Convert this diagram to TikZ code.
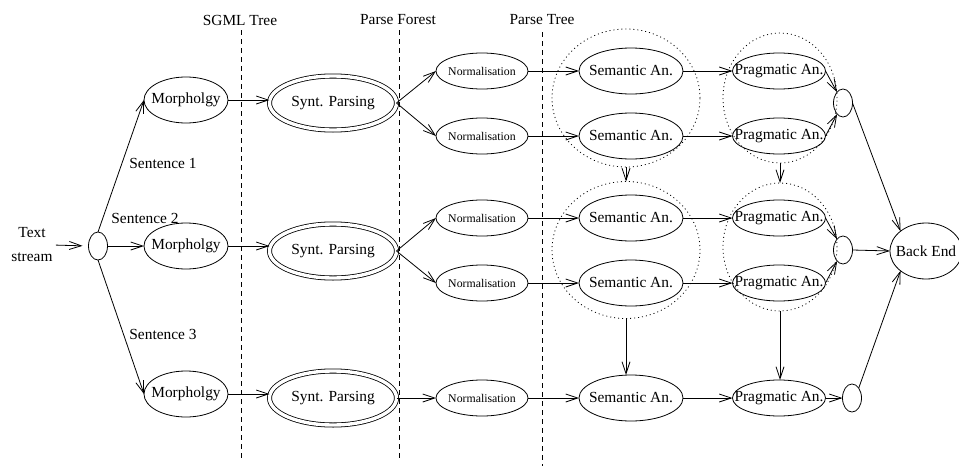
\documentclass[tikz,border=0pt]{standalone}
\usepackage{fontspec}
\setmainfont{Liberation Serif}
\usetikzlibrary{shapes.geometric,arrows.meta}
\newcommand{\mycen}[1]{\makebox[0pt]{#1}}
\begin{document}
\begin{tikzpicture}[x=1pt,y=-1pt,
  font=\fontsize{15.4}{24}\selectfont,
  line width=0.8pt,
  >={Straight Barb[length=12pt,width=8pt]},
  el/.style={ellipse,draw,inner sep=0pt,outer sep=0pt},
  morph/.style={el,minimum width=84pt,minimum height=46pt},
  synt/.style={el,double,double distance=3.4pt,minimum width=127pt,minimum height=54pt},
  norm/.style={el,minimum width=92pt,minimum height=36pt,font=\fontsize{11.8}{14}\selectfont},
  sem/.style={el,minimum width=104pt,minimum height=46pt},
  prag/.style={el,minimum width=93pt,minimum height=36pt},
  joinnode/.style={el,minimum width=19pt,minimum height=28pt},
  backend/.style={el,minimum width=72pt,minimum height=56pt},
  grp/.style={ellipse,draw,dash pattern=on 1pt off 3pt,inner sep=0pt,outer sep=0pt},
  lbl/.style={inner sep=0pt},
  sep/.style={dash pattern=on 5pt off 4pt}
]
\useasboundingbox (0,0) rectangle (959,466);

% column labels and separators
\node[lbl] (sgml) at (240,20) {SGML Tree};
\node[lbl] (pf) at (398,20) {Parse Forest};
\node[lbl] (pt) at (542,20) {Parse Tree};
\coordinate (t1) at (241,30);
\coordinate (b1) at (241,460);
\coordinate (t2) at (399,30);
\coordinate (b2) at (399,460);
\coordinate (t3) at (542,32);
\coordinate (b3) at (542,466);
\draw[sep] (t1) -- (b1);
\draw[sep] (t2) -- (b2);
\draw[sep] (t3) -- (b3);

% groups
\node[grp,minimum width=148pt,minimum height=138pt] (g1) at (626,98) {};
\node[grp,minimum width=148pt,minimum height=137pt] (g2) at (626,250) {};
\node[grp,minimum width=114pt,minimum height=130pt] (q1) at (780,98) {};
\node[grp,minimum width=114pt,minimum height=128pt] (q2) at (780,247) {};

% input
\node[lbl,align=center] (txt) at (32,245) {Text\\stream};
\node[joinnode] (split) at (98,246) {};
\node[lbl] (sen1) at (163,163) {Sentence 1};
\node[lbl] (sen2) at (145,218) {Sentence 2};
\node[lbl] (sen3) at (163,334) {Sentence 3};

\node[morph] (m1) at (186,100) {\mycen{Morpholgy}};
\node[morph] (m2) at (186,246) {\mycen{Morpholgy}};
\node[morph] (m3) at (186,394) {\mycen{Morpholgy}};

\node[synt] (s1) at (333,103) {\mycen{Synt. Parsing}};
\node[synt] (s2) at (333,251) {\mycen{Synt. Parsing}};
\node[synt] (s3) at (333,398) {\mycen{Synt. Parsing}};

\node[norm] (n1) at (482,71) {\mycen{Normalisation}};
\node[norm] (n2) at (482,136) {\mycen{Normalisation}};
\node[norm] (n3) at (482,218) {\mycen{Normalisation}};
\node[norm] (n4) at (482,283) {\mycen{Normalisation}};
\node[norm] (n5) at (482,398) {\mycen{Normalisation}};

\node[sem] (e1) at (631,71) {\mycen{Semantic An.}};
\node[sem] (e2) at (631,136) {\mycen{Semantic An.}};
\node[sem] (e3) at (631,218) {\mycen{Semantic An.}};
\node[sem] (e4) at (631,283) {\mycen{Semantic An.}};
\node[sem] (e5) at (631,398) {\mycen{Semantic An.}};

\node[prag] (p1) at (779,71) {\mycen{Pragmatic An.}};
\node[prag] (p2) at (779,136) {\mycen{Pragmatic An.}};
\node[prag] (p3) at (779,218) {\mycen{Pragmatic An.}};
\node[prag] (p4) at (779,283) {\mycen{Pragmatic An.}};
\node[prag] (p5) at (779,398) {\mycen{Pragmatic An.}};

\node[joinnode] (j1) at (843,103) {};
\node[joinnode] (j2) at (843,250) {};
\node[joinnode] (j3) at (852,398) {};
\node[backend] (be) at (926,251) {\mycen{Back End}};

% connectors
\draw[->,shorten <=3pt,shorten >=6pt] (txt.east) -- (split.west);
\draw[->] (split.north) -- (m1.west);
\draw[->] (split.east) -- (m2.west);
\draw[->] (split.south) -- (m3.west);

\draw[->] (m1.east) -- (m1.east -| s1.west);
\draw[->] (m2.east) -- (m2.east -| s2.west);
\draw[->] (m3.east) -- (m3.east -| s3.west);

\draw[->] (s1.east) -- (n1.west);
\draw[->] (s1.east) -- (n2.west);
\draw[->] (s2.east) -- (n3.west);
\draw[->] (s2.east) -- (n4.west);
\draw[->] (s3.east) -- (n5.west);

\foreach \i in {1,...,5}{
  \draw[->] (n\i.east) -- (e\i.west);
  \draw[->] (e\i.east) -- (p\i.west);
}

\draw[->] (p1.east) -- (j1);
\draw[->] (p2.east) -- (j1);
\draw[->] (p3.east) -- (j2);
\draw[->] (p4.east) -- (j2);
\draw[->] (p5.east) -- (j3.west);

\draw[->] (j1.east) -- (be.north west);
\draw[->] (j2.east) -- (be.west);
\draw[->] (j3.north east) -- (be.south west);

\draw[->] (g1.south) -- (g2.north);
\draw[->] (q1.south) -- (q2.north);
\draw[->] (g2.south) -- (g2.south |- e5.north);
\draw[->] (q2.south) -- (q2.south |- p5.north);
\end{tikzpicture}
\end{document}
